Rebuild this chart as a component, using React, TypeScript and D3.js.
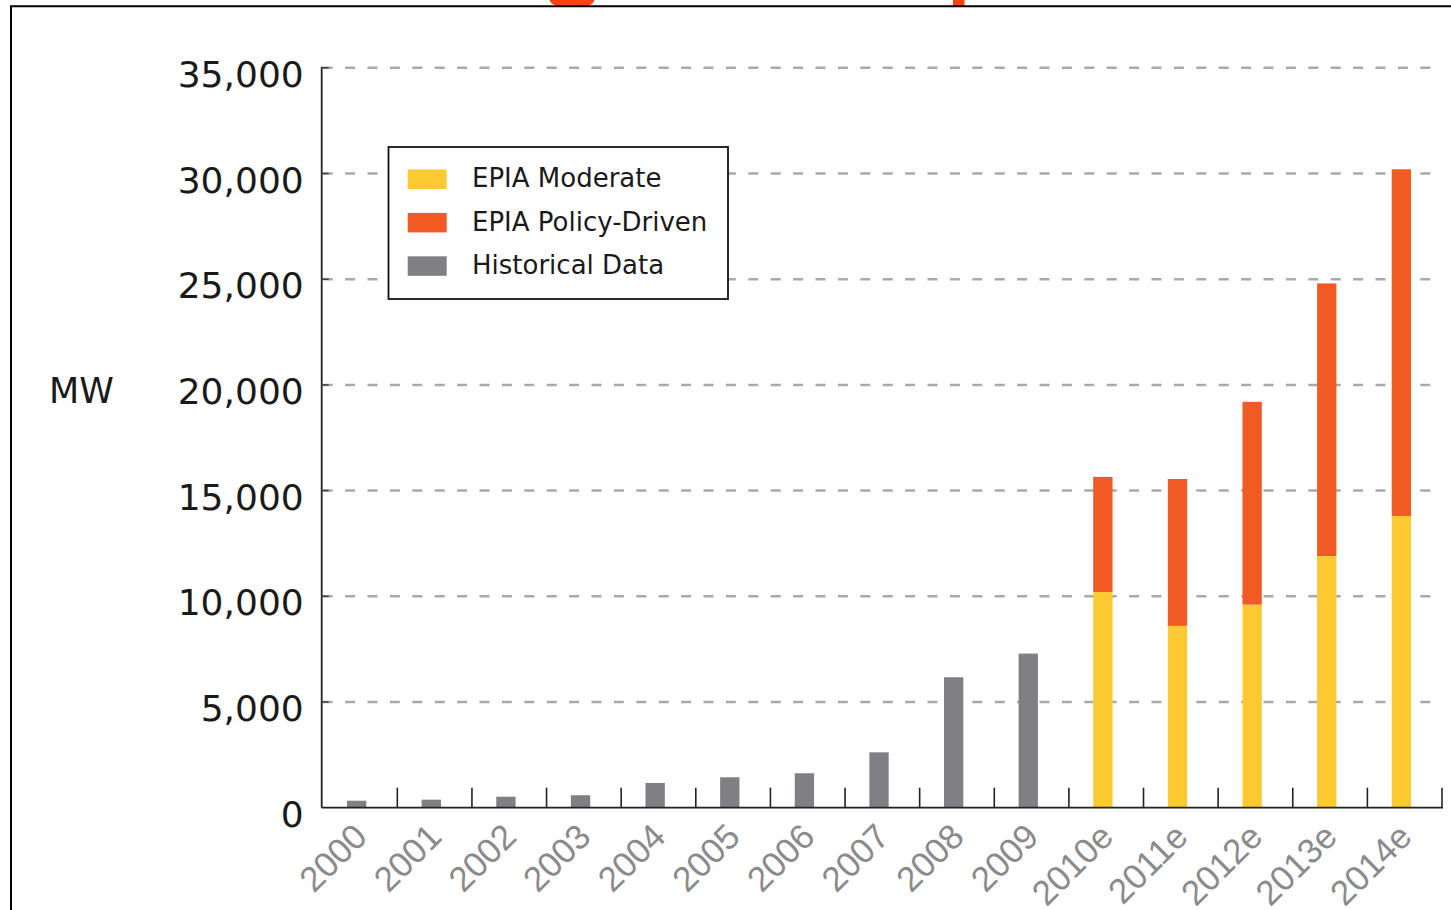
import React from "react";
import * as d3 from "d3";

// values (MW)
const years = [
  "2000", "2001", "2002", "2003", "2004", "2005", "2006", "2007", "2008", "2009",
  "2010e", "2011e", "2012e", "2013e", "2014e",
];
const historicalYears = years.slice(0, 10);
const historical = [330, 380, 520, 590, 1170, 1440, 1630, 2620, 6170, 7290];
const forecastYears = years.slice(10);
const moderate = [10200, 8600, 9600, 11900, 13800];
const policyTotal = [15650, 15550, 19200, 24800, 30200];
const yTicks = [0, 5000, 10000, 15000, 20000, 25000, 30000, 35000];

const legendItems = [
  { label: "EPIA Moderate", color: "#fdc931" },
  { label: "EPIA Policy-Driven", color: "#f15a22" },
  { label: "Historical Data", color: "#808084" },
];

const W = 1451;
const H = 910;
const FONT = "'DejaVu Sans', 'Liberation Sans', Arial, sans-serif";
const FONT_X = "'Liberation Sans', Arial, sans-serif";

export default function App() {
  const x = d3.scaleBand<string>().domain(years).range([322.7, 1442]);
  const y = d3.scaleLinear().domain([0, 35000]).range([807.7, 67.8]);
  const bw = x.bandwidth();
  const barX = (d: string) => (x(d) as number) + bw * 0.326;
  const barW = bw * 0.259;
  const axisX = 321.7;
  const fmt = d3.format(",");

  return (
    <div style={{ position: "absolute", left: 0, top: 0 }}>
      <svg width={W} height={H} style={{ display: "block" }}>
        <rect width={W} height={H} fill="#fff" />

        {/* cropped bits of the page above the frame */}
        <rect x={549} y={-20} width={46} height={26} rx={9} fill="#ff4412" />
        <rect x={953} y={0} width={11.5} height={6} fill="#ff4412" />

        {/* frame */}
        <line x1={10} x2={W} y1={6.3} y2={6.3} stroke="#000" strokeWidth={2} />
        <line x1={11} x2={11} y1={6} y2={H} stroke="#000" strokeWidth={2} />

        {/* gridlines */}
        {yTicks.filter((t) => t > 0).map((t) => (
          <line
            key={"g" + t}
            x1={axisX + 1}
            x2={1440}
            y1={y(t)}
            y2={y(t)}
            stroke="#a9a9a9"
            strokeWidth={2.5}
            strokeDasharray="10,12.4"
          />
        ))}

        {/* y axis */}
        <line x1={axisX} x2={axisX} y1={y(35000) - 1} y2={y(0)} stroke="#222" strokeWidth={1.8} />
        {yTicks.map((t) => (
          <g key={"t" + t}>
            {t > 0 && (
              <line x1={axisX} x2={axisX + 7} y1={y(t)} y2={y(t)} stroke="#444" strokeWidth={1.6} />
            )}
            <text
              x={axisX - 18}
              y={y(t) + 19}
              textAnchor="end"
              fontFamily={FONT}
              fontSize={36}
              fill="#1a1a1a"
            >
              {fmt(t)}
            </text>
          </g>
        ))}
        <text x={49} y={y(20000) + 18} fontFamily={FONT} fontSize={35} fill="#1a1a1a">
          MW
        </text>

        {/* bars */}
        {historicalYears.map((d, i) => (
          <rect
            key={"h" + d}
            x={barX(d)}
            width={barW}
            y={y(historical[i])}
            height={y(0) - y(historical[i])}
            fill="#808084"
          />
        ))}
        {forecastYears.map((d, i) => (
          <g key={"f" + d}>
            <rect
              x={barX(d)}
              width={barW}
              y={y(policyTotal[i])}
              height={y(moderate[i]) - y(policyTotal[i])}
              fill="#f15a22"
            />
            <rect
              x={barX(d)}
              width={barW}
              y={y(moderate[i])}
              height={y(0) - y(moderate[i])}
              fill="#fdc931"
            />
          </g>
        ))}

        {/* x axis */}
        <line x1={axisX} x2={x(years[years.length - 1])! + bw + 1} y1={y(0)} y2={y(0)} stroke="#222" strokeWidth={1.8} />
        {years.map((d) => (
          <line
            key={"xt" + d}
            x1={x(d)! + bw}
            x2={x(d)! + bw}
            y1={y(0) - 20}
            y2={y(0)}
            stroke="#222"
            strokeWidth={1.6}
          />
        ))}
        {years.map((d) => {
          const cx = x(d)! + bw / 2 + 9;
          const cy = y(0) + 31;
          return (
            <text
              key={"xl" + d}
              transform={`translate(${cx},${cy}) rotate(-45)`}
              textAnchor="end"
              fontFamily={FONT_X}
              fontSize={35}
              fill="#8a8a8c"
            >
              {d}
            </text>
          );
        })}

        {/* legend */}
        <rect x={388.5} y={147} width={339.5} height={152} fill="#fff" stroke="#111" strokeWidth={1.8} />
        {legendItems.map((item, i) => (
          <g key={item.label}>
            <rect x={407.7} y={169.5 + i * 43.4} width={39} height={19.5} fill={item.color} />
            <text x={472} y={186.7 + i * 43.8} fontFamily={FONT} fontSize={26} fill="#1a1a1a">
              {item.label}
            </text>
          </g>
        ))}
      </svg>
    </div>
  );
}
